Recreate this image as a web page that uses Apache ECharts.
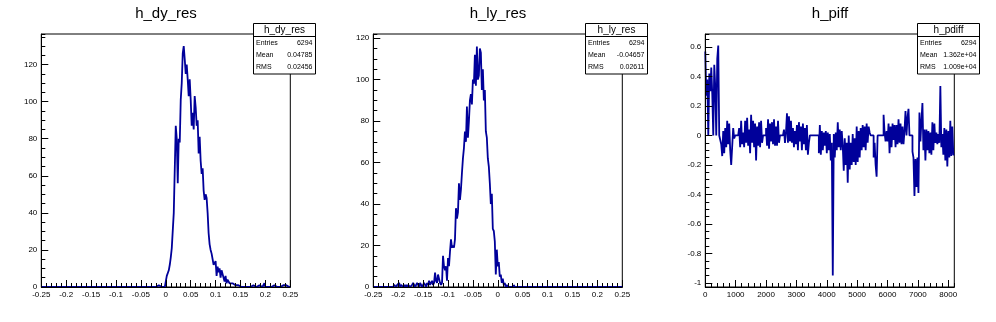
<!DOCTYPE html>
<html><head><meta charset="utf-8">
<script src="https://cdn.jsdelivr.net/npm/echarts@6/dist/echarts.min.js"></script>
<style>html,body{margin:0;padding:0;background:#fff}#c{width:996px;height:322px}</style>
</head><body><div id="c"></div>
<script>
// ---------- data ----------
const dyLow = -0.02, dyWidth = 0.002;
const dyCounts = [
  0,0,1,0,0,0,0,0,0,1,
  3,6,5,9,12,16,21,22,40,41,
  87,80,56,80,78,101,110,126,130,123,
  115,120,112,103,112,101,87,94,85,103,
  97,87,90,72,81,68,61,64,52,47,
  50,48,40,29,23,20,18,17,12,11,
  14,6,11,8,10,5,9,7,8,3,
  6,2,4,3,2,2,2,1,2,1,
  0,1,1,0,1,0,1,0,0,0,
  0,0,0,0,0,0,1,1,0,1,
  0,1,1,1,0,1,0,1,0,2,
  0,0,0,0,0,0,0,0,1,0,
  0,0,0,0,0,1,0,1,0,0,
  1,0,0,0,0
];
const lyLow = -0.21, lyWidth = 0.002;
const lyCounts = [
  0,1,1,0,1,1,2,0,1,1,
  0,1,0,1,0,1,1,0,0,1,
  2,1,0,1,2,1,0,2,1,0,
  1,2,1,0,2,1,3,1,2,3,
  1,2,7,3,2,6,4,2,1,2,
  15,10,8,10,3,14,10,17,23,19,
  20,19,23,38,33,36,50,42,47,55,
  62,67,75,70,87,72,80,90,93,88,
  100,98,112,97,116,100,102,115,113,95,
  105,90,95,75,72,62,58,50,40,45,
  28,27,22,6,18,10,12,5,6,2,
  4,1,2,0,1,0,0,0,0,0,
  0,1,0,0,0,0
];
const pdLow = 0, pdWidth = 32.8;
const pdValues = [
  0.57,0.27,0.38,0,0.42,0.30,0.46,0.28,0,0.48,
  0.33,0,0.52,0.61,0,0,-0.06,-0.14,0.03,-0.12,
  0.05,-0.08,0.10,-0.06,0.08,-0.10,-0.20,-0.21,0.05,-0.02,
  0,0,0,0,0.05,-0.08,0.10,-0.06,0.02,-0.08,
  0.10,-0.05,0.12,-0.07,0.04,-0.12,0.14,-0.05,0.10,-0.08,
  0.08,-0.17,0.06,-0.07,0.09,-0.08,0.10,-0.05,0,0,
  0,0.05,-0.07,0.11,-0.09,0.08,-0.04,0.09,-0.06,0.11,
  -0.07,0.06,-0.07,0.10,-0.05,0,0,0,0,0.04,
  -0.05,0.02,0.15,-0.05,0.13,-0.04,0.10,-0.05,0.05,-0.08,
  0.03,-0.06,0.07,-0.10,0.09,-0.04,0.06,-0.10,0.08,-0.06,
  0.05,-0.10,0.07,-0.13,-0.05,0,0,0,0,0,
  0,0,0,0,-0.12,0.07,-0.13,0.03,-0.10,0.02,
  -0.07,0.03,-0.12,0.02,-0.10,0.01,-0.17,-0.05,-0.95,0.01,
  -0.15,0.02,-0.10,0.09,-0.08,0.04,-0.10,0.03,-0.07,-0.24,
  -0.02,-0.20,-0.05,-0.32,0.00,-0.23,-0.05,-0.20,0.01,-0.18,
  -0.02,-0.20,0.06,-0.18,0.03,-0.15,0.05,-0.10,0.07,-0.08,
  0.06,-0.10,0.08,-0.05,0.06,0.02,0,0,0,-0.15,
  -0.05,-0.20,-0.28,0,0,0,0,0,0,0.14,
  0.02,-0.04,0.03,-0.04,0.08,-0.12,0.06,-0.08,0.08,-0.03,
  0.07,-0.08,0.07,-0.06,0.11,-0.05,0.08,-0.06,0.06,-0.06,
  0.03,0.165,0.00,0.12,0.18,0,0,0,-0.11,-0.15,
  -0.41,-0.16,-0.35,-0.15,-0.39,0.155,-0.04,0.10,0.22,-0.10,
  0.04,-0.17,0.04,-0.10,0.03,-0.12,0.02,-0.13,0.09,-0.10,
  0.08,-0.05,0.02,-0.06,0.01,-0.05,0.335,-0.08,0.01,-0.13,
  0.05,-0.17,0.04,-0.21,0.03,-0.15,0.10,-0.14,0.06,-0.13
];
const titles = ['h_dy_res', 'h_ly_res', 'h_piff'];
const boxNames = ['h_dy_res', 'h_ly_res', 'h_pdiff'];
const statLabels = ['Entries', 'Mean', 'RMS'];
const statEntries = ['6294', '6294', '6294'];
const statMean = ['0.04785', '-0.04657', '1.362e+04'];
const statRMS = ['0.02456', '0.02611', '1.009e+04'];
const xRanges = [[-0.25, 0.25], [-0.25, 0.25], [0, 8200]];
const yRanges = [[0, 136.5], [0, 122], [-1.028, 0.688]];
const xMajor = [0.05, 0.05, 1000], xMinor = [0.01, 0.01, 200];
const yMajor = [20, 20, 0.2], yMinor = [5, 5, 0.05];

// ---------- build ----------
const FONT = 'Liberation Sans, Arial, Helvetica, sans-serif';
const NFONT = '"Liberation Sans Narrow", "Arial Narrow", "Liberation Sans", sans-serif';
const LINE = '#00009a';
function histPoints(low, w, vals, xmin, xmax) {
  const pts = [];
  if (low > xmin) pts.push([xmin, 0]);
  vals.forEach((v, i) => pts.push([low + i * w, v]));
  const end = low + vals.length * w;
  if (end < xmax - 1e-9) { pts.push([end, 0]); pts.push([xmax, 0]); }
  else pts.push([xmax, vals[vals.length - 1]]);
  return pts;
}
const seriesData = [
  histPoints(dyLow, dyWidth, dyCounts, xRanges[0][0], xRanges[0][1]),
  histPoints(lyLow, lyWidth, lyCounts, xRanges[1][0], xRanges[1][1]),
  histPoints(pdLow, pdWidth, pdValues, xRanges[2][0], xRanges[2][1])
];
const fmt = v => String(+(+v).toFixed(4));
const PANEL_W = 332, GL = 41.3, GT = 34, GW = 249, GH = 253;
const grids = [], xAxes = [], yAxes = [], series = [], graphics = [];
const showMaxX = [true, true, false], showMinY = [true, true, false], showMaxY = [false, false, false];
for (let k = 0; k < 3; k++) {
  const off = k * PANEL_W;
  grids.push({left: GL + off, top: GT, width: GW, height: GH, show: true,
    borderColor: '#000', borderWidth: 1, containLabel: false});
  const common = {gridIndex: k, type: 'value', splitLine: {show: false}, z: 5};
  xAxes.push(Object.assign({}, common, {
    position: 'bottom', min: xRanges[k][0], max: xRanges[k][1],
    minInterval: xMajor[k], maxInterval: xMajor[k], splitNumber: 10,
    axisLine: {show: true, onZero: false, lineStyle: {color: '#000', width: 1}},
    axisTick: {show: true, inside: true, length: 7, lineStyle: {color: '#000'}},
    axisLabel: {color: '#000', fontSize: 8, fontFamily: NFONT, margin: 4, formatter: fmt,
      showMinLabel: true, showMaxLabel: showMaxX[k], hideOverlap: false}
  }));
  xAxes.push(Object.assign({}, common, {
    position: 'bottom', min: xRanges[k][0], max: xRanges[k][1],
    minInterval: xMinor[k], maxInterval: xMinor[k], splitNumber: 50,
    axisLine: {show: false, onZero: false},
    axisTick: {show: true, inside: true, length: 4, lineStyle: {color: '#000'}},
    axisLabel: {show: false}
  }));
  yAxes.push(Object.assign({}, common, {
    position: 'left', min: yRanges[k][0], max: yRanges[k][1],
    minInterval: yMajor[k], maxInterval: yMajor[k], splitNumber: 8,
    axisLine: {show: true, onZero: false, lineStyle: {color: '#000', width: 1}},
    axisTick: {show: true, inside: true, length: 7, lineStyle: {color: '#000'}},
    axisLabel: {color: '#000', fontSize: 8, fontFamily: NFONT, margin: 4, formatter: fmt,
      showMinLabel: showMinY[k], showMaxLabel: showMaxY[k], hideOverlap: false}
  }));
  yAxes.push(Object.assign({}, common, {
    position: 'left', min: yRanges[k][0], max: yRanges[k][1],
    minInterval: yMinor[k], maxInterval: yMinor[k], splitNumber: 40,
    axisLine: {show: false, onZero: false},
    axisTick: {show: true, inside: true, length: 4, lineStyle: {color: '#000'}},
    axisLabel: {show: false}
  }));
  series.push({type: 'line', xAxisIndex: 2 * k, yAxisIndex: 2 * k, data: seriesData[k],
    step: 'end', symbol: 'none', showSymbol: false, animation: false, z: 3,
    lineStyle: {color: LINE, width: 1.8}});
  // title
  graphics.push({type: 'text', x: 166 + off, y: 14, z: 100,
    style: {text: titles[k], fontSize: 15, fontFamily: FONT, fill: '#000', align: 'center', verticalAlign: 'middle'}});
  // stats box
  const bx = 253.5 + off, by = 23.5, bw = 62, bh = 50.5;
  graphics.push({type: 'rect', z: 100, shape: {x: bx, y: by, width: bw, height: bh},
    style: {fill: '#fff', stroke: '#000', lineWidth: 1}});
  graphics.push({type: 'line', z: 101, shape: {x1: bx, y1: 36.5, x2: bx + bw, y2: 36.5},
    style: {stroke: '#000', lineWidth: 1}});
  graphics.push({type: 'text', z: 102, x: bx + bw / 2, y: 30,
    style: {text: boxNames[k], fontSize: 10, fontFamily: FONT, fill: '#000', align: 'center', verticalAlign: 'middle'}});
  const vals = [statEntries[k], statMean[k], statRMS[k]];
  const rowsY = [43, 55.5, 67.5];
  for (let r = 0; r < 3; r++) {
    graphics.push({type: 'text', z: 102, x: bx + 2.5, y: rowsY[r],
      style: {text: statLabels[r], fontSize: 7, fontFamily: FONT, fill: '#000', align: 'left', verticalAlign: 'middle'}});
    graphics.push({type: 'text', z: 102, x: bx + bw - 3, y: rowsY[r],
      style: {text: vals[r], fontSize: 7, fontFamily: FONT, fill: '#000', align: 'right', verticalAlign: 'middle'}});
  }
}
const chart = echarts.init(document.getElementById('c'), null, {renderer: 'canvas'});
chart.setOption({
  animation: false,
  backgroundColor: '#fff',
  grid: grids, xAxis: xAxes, yAxis: yAxes, series: series,
  graphic: {elements: graphics}
});
</script>
</body></html>
